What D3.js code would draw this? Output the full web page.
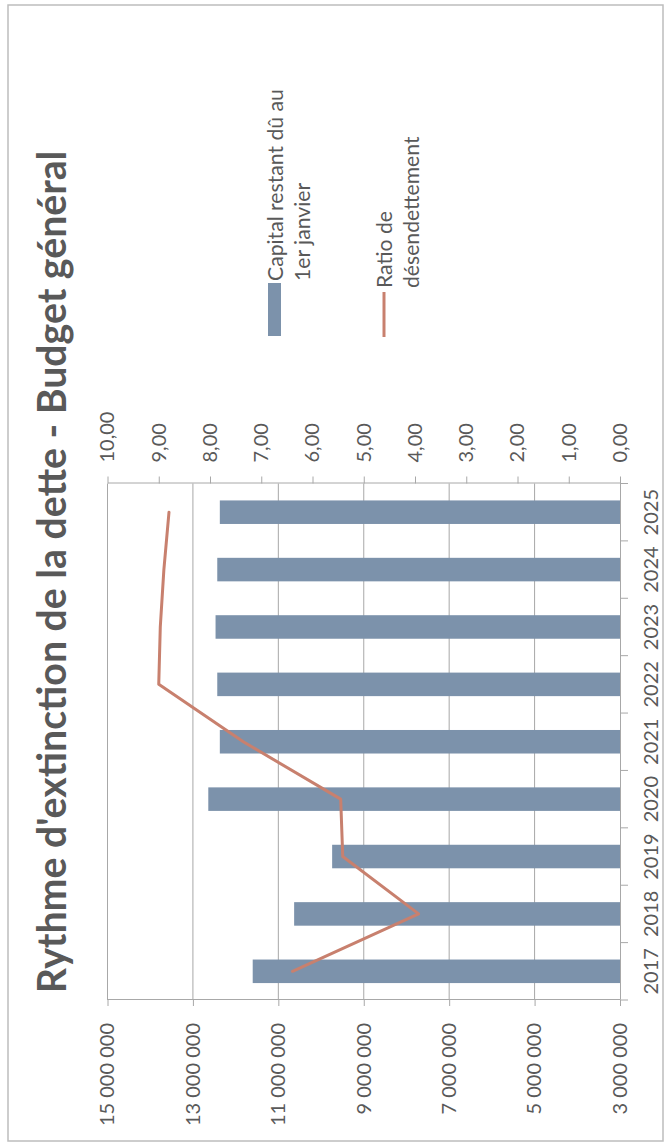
<!DOCTYPE html>
<html>
<head>
<meta charset="utf-8">
<script src="https://cdn.jsdelivr.net/npm/d3@7"></script>
<style>
  html, body { margin: 0; padding: 0; background: #ffffff; }
  svg { display: block; }
  text { font-family: Lato, "Open Sans", sans-serif; fill: #595959; }
</style>
</head>
<body>
<script>
// ---- data ----
const years = ["2017", "2018", "2019", "2020", "2021", "2022", "2023", "2024", "2025"];
const capital = [11600000, 10630000, 9740000, 12640000, 12370000, 12430000, 12470000, 12430000, 12370000];
const ratio = [6.39, 3.93, 5.41, 5.45, 7.35, 9.00, 8.97, 8.90, 8.80];
const capitalTicks = [3000000, 5000000, 7000000, 9000000, 11000000, 13000000, 15000000];
const ratioTicks = [0, 1, 2, 3, 4, 5, 6, 7, 8, 9, 10];
const titleText = "Rythme d'extinction de la dette - Budget général";
const legendCapital = ["Capital restant dû au", "1er janvier"];
const legendRatio = ["Ratio de", "désendettement"];

const PW = 671, PH = 1144;
const barColor = "#7c92ab";
const lineColor = "#c8806e";
const gridColor = "#a8a8a8";

const svg = d3.select("body").append("svg")
  .attr("width", PW).attr("height", PH);

// page frame
svg.append("rect")
  .attr("x", 8).attr("y", 5).attr("width", 655).attr("height", 1136)
  .attr("fill", "#fff").attr("stroke", "#bdbdbd").attr("stroke-width", 1.5);

// unrotated frame: u along page (bottom->top), v along page x
const g = svg.append("g").attr("transform", `translate(0,${PH}) rotate(-90)`);

const uL = 144, uR = 660.5, vTop = 107.5, vBot = 620;

const x = d3.scaleBand().domain(years).range([uL, uR]).paddingInner(0.59).paddingOuter(0.295);
const yCap = d3.scaleLinear().domain([3000000, 15000000]).range([vBot, vTop]);
const yRat = d3.scaleLinear().domain([0, 10]).range([vBot, vTop]);

const fmtCap = v => d3.format(",")(v).replace(/,/g, " ");
const fmtRat = v => d3.format(".2f")(v).replace(".", ",");

// gridlines (capital)
g.append("g").selectAll("line").data(capitalTicks.filter(t => t !== 3000000)).join("line")
  .attr("x1", uL).attr("x2", uR)
  .attr("y1", d => yCap(d)).attr("y2", d => yCap(d))
  .attr("stroke", gridColor).attr("stroke-width", 1);

// bars
g.append("g").selectAll("rect").data(years).join("rect")
  .attr("x", d => x(d))
  .attr("width", x.bandwidth())
  .attr("y", (d, i) => yCap(capital[i]))
  .attr("height", (d, i) => vBot - yCap(capital[i]))
  .attr("fill", barColor);

// line
const line = d3.line()
  .x((d, i) => x(years[i]) + x.bandwidth() / 2)
  .y(d => yRat(d));
g.append("path").datum(ratio)
  .attr("d", line)
  .attr("fill", "none").attr("stroke", lineColor).attr("stroke-width", 3)
  .attr("stroke-linejoin", "round").attr("stroke-linecap", "round");

// left axis (capital)
const axL = g.append("g").attr("transform", `translate(${uL},0)`)
  .call(d3.axisLeft(yCap).tickValues(capitalTicks).tickFormat(fmtCap).tickSize(6).tickSizeOuter(0).tickPadding(17));
// right axis (ratio)
const axR = g.append("g").attr("transform", `translate(${uR},0)`)
  .call(d3.axisRight(yRat).tickValues(ratioTicks).tickFormat(fmtRat).tickSize(7).tickSizeOuter(0).tickPadding(14));
// bottom axis (categories)
const axB = g.append("g").attr("transform", `translate(0,${vBot})`)
  .call(d3.axisBottom(x).tickSize(0).tickPadding(24));
// category boundary ticks
const bounds = d3.range(years.length + 1).map(i => uL + i * x.step());
g.append("g").selectAll("line").data(bounds).join("line")
  .attr("x1", d => d).attr("x2", d => d)
  .attr("y1", vBot).attr("y2", vBot + 8)
  .attr("stroke", gridColor);

[axL, axR, axB].forEach(a => {
  a.select(".domain").attr("stroke", gridColor).attr("stroke-width", 1);
  a.selectAll(".tick line").attr("stroke", gridColor);
  a.selectAll("text").attr("font-size", 20).attr("fill", "#595959")
    .style("font-family", "Lato, 'Open Sans', sans-serif");
});

// title
const title = g.append("text")
  .attr("x", 572).attr("y", 66)
  .attr("text-anchor", "middle")
  .attr("font-weight", "bold")
  .attr("font-size", 36)
  .text(titleText);
const tl = title.node().getComputedTextLength();
title.attr("font-size", 36 * 843 / tl);

// legend
g.append("rect").attr("x", 808).attr("y", 268).attr("width", 53).attr("height", 13).attr("fill", barColor);
const lg1 = g.append("g");
legendCapital.forEach((t, i) => {
  lg1.append("text").attr("x", 863).attr("y", 283 + i * 27).attr("font-size", 19).text(t);
});
const l1 = lg1.select("text").node().getComputedTextLength();
const lfs = 19 * 192 / l1;
lg1.selectAll("text").attr("font-size", lfs);

g.append("line").attr("x1", 807).attr("x2", 852).attr("y1", 384).attr("y2", 384)
  .attr("stroke", lineColor).attr("stroke-width", 3);
legendRatio.forEach((t, i) => {
  g.append("text").attr("x", 856).attr("y", 392 + i * 27).attr("font-size", lfs).text(t);
});
</script>
</body>
</html>
